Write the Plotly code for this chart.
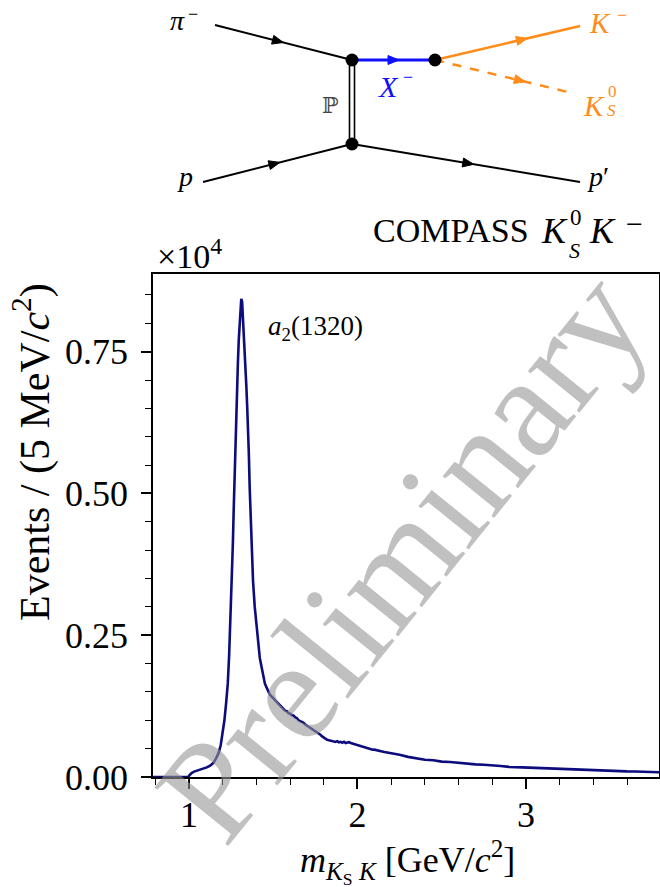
import math
import plotly.graph_objects as go

# ---------------- data ----------------
mass = [0.786, 0.995, 1.002, 1.015, 1.030, 1.046, 1.065, 1.085, 1.105, 1.125,
        1.145, 1.160, 1.175, 1.188, 1.200, 1.210, 1.220, 1.230, 1.238, 1.244,
        1.250, 1.255, 1.260, 1.265, 1.270, 1.275, 1.280, 1.285, 1.290, 1.295,
        1.300, 1.305, 1.310, 1.315, 1.320, 1.325, 1.330, 1.335, 1.340, 1.345,
        1.350, 1.355, 1.360, 1.365, 1.370, 1.375, 1.380, 1.390, 1.400, 1.410,
        1.420, 1.430, 1.440, 1.450, 1.460, 1.470, 1.480, 1.490,
        1.50, 1.51, 1.52, 1.53, 1.54, 1.55, 1.56, 1.57, 1.58, 1.59,
        1.60, 1.61, 1.62, 1.63, 1.64, 1.65, 1.66, 1.67, 1.68, 1.69,
        1.70, 1.71, 1.72, 1.73, 1.74, 1.75, 1.76, 1.77, 1.78, 1.79,
        1.80, 1.81, 1.82, 1.83, 1.84, 1.85, 1.86, 1.87, 1.88, 1.89,
        1.90, 1.91, 1.92, 1.93, 1.94, 1.95, 1.96, 1.97, 1.98, 1.99,
        2.00, 2.01, 2.02, 2.03, 2.04, 2.05, 2.06, 2.07, 2.08, 2.09,
        2.10, 2.12, 2.14, 2.16, 2.18, 2.20, 2.25, 2.30, 2.35, 2.40,
        2.45, 2.50, 2.55, 2.60, 2.65, 2.70, 2.75, 2.80, 2.85, 2.90,
        2.95, 3.00, 3.05, 3.10, 3.15, 3.20, 3.25, 3.30, 3.35, 3.40,
        3.45, 3.50, 3.55, 3.60, 3.65, 3.70, 3.75, 3.79]
counts = [0, 0, 30, 70, 95, 110, 130, 150, 170, 200,
          250, 330, 420, 560, 780, 1000, 1300, 1650, 2150, 2600,
          3100, 3500, 4100, 4700, 5300, 5900, 6400, 6800, 7300, 7700,
          8000, 8200, 8430, 8380, 8100, 7950, 7700, 7300, 6900, 6550,
          6200, 5700, 5100, 4650, 4200, 3800, 3450, 3000, 2650, 2350,
          2100, 1950, 1780, 1650, 1580, 1500, 1450, 1420,
          1390, 1360, 1330, 1300, 1255, 1230, 1210, 1170, 1160, 1125,
          1115, 1090, 1085, 1050, 1040, 1000, 985, 970, 955, 925,
          905, 890, 870, 840, 825, 800, 780, 760, 745, 715,
          690, 670, 655, 648, 640, 625, 630, 618, 632, 612,
          620, 605, 622, 600, 608, 615, 600, 590, 585, 570,
          565, 550, 552, 535, 530, 515, 512, 495, 492, 480,
          482, 462, 455, 440, 432, 420, 392, 355, 330, 305,
          295, 272, 265, 248, 242, 222, 215, 198, 194, 178,
          172, 166, 160, 150, 148, 138, 135, 124, 122, 114,
          113, 108, 104, 100, 98, 94, 90, 85]

x_tick_vals = [1, 2, 3]
y_tick_vals = [0, 2500, 5000, 7500]
y_tick_text = ["0.00", "0.25", "0.50", "0.75"]

# ---------------- layout helpers ----------------
W, H = 660, 887
SERIF = "Liberation Serif"


def px(x):
    return x / W


def py(y):
    return 1 - y / H


fig = go.Figure()
fig.add_trace(go.Scatter(x=mass, y=counts, mode="lines",
                         line=dict(color="#0c0c7c", width=2.6),
                         hoverinfo="skip"))

L, R, T, B = 153, 659, 274, 777
axis_common = dict(showline=True, linecolor="black", linewidth=1.8, mirror=True,
                   showgrid=False, zeroline=False, ticks="outside", ticklen=10,
                   tickwidth=1.6, tickcolor="black", automargin=False,
                   tickfont=dict(family=SERIF, size=36, color="black"))

fig.update_layout(
    width=W, height=H, margin=dict(l=0, r=0, t=0, b=0),
    paper_bgcolor="white", plot_bgcolor="white", showlegend=False,
    font=dict(family=SERIF, color="black"),
    xaxis=dict(domain=[px(L), px(R)], range=[0.786, 3.79], tickvals=x_tick_vals,
               ticklabelstandoff=-5,
               minor=dict(dtick=0.2, tick0=0, ticks="outside", ticklen=6,
                          tickwidth=1.3, tickcolor="black", showgrid=False),
               **axis_common),
    yaxis=dict(domain=[py(B), py(T)], range=[0, 8870], tickvals=y_tick_vals,
               ticktext=y_tick_text, ticklabelstandoff=6,
               minor=dict(dtick=500, tick0=0, ticks="outside", ticklen=6,
                          tickwidth=1.3, tickcolor="black", showgrid=False),
               **axis_common),
)

ann = []


def text(x, y, s, size, color="black", xanchor="center", yanchor="middle",
         angle=0, family=SERIF):
    ann.append(dict(x=px(x), y=py(y), xref="paper", yref="paper", text=s,
                    showarrow=False, xanchor=xanchor, yanchor=yanchor,
                    textangle=angle, font=dict(family=family, size=size, color=color)))


# watermark
text(401, 555, "Preliminary", 144, color="rgba(150,150,150,0.6)", angle=-51)

# axis titles
text(32, 452, "Events / (5 MeV/<i>c</i><sup>2</sup>)", 42, angle=-90)
text(407, 862, "<i>m</i><sub><i>K</i><sub>S</sub> <i>K</i></sub> [GeV/<i>c</i><sup>2</sup>]", 36)

# exponent & title
text(155, 254, "×10<sup>4</sup>", 34, xanchor="left")
text(371, 231, "COMPASS", 34, xanchor="left")
text(539, 231, "<i>K</i>", 36, xanchor="left")
text(576, 218, "0", 23)
text(574, 251, "<i>S</i>", 22)
text(587, 231, "<i>K</i>", 36, xanchor="left")
text(634, 223, "−", 30)

# peak label
text(266, 328, "<i>a</i><sub>2</sub>(1320)", 27, xanchor="left")

# ---------------- Feynman diagram ----------------
shapes = []
BLACK, BLUE, ORANGE = "black", "#1010ff", "#ff8c1a"


def seg(x0, y0, x1, y1, color, width, dash="solid"):
    shapes.append(dict(type="line", xref="paper", yref="paper",
                       x0=px(x0), y0=py(y0), x1=px(x1), y1=py(y1),
                       line=dict(color=color, width=width, dash=dash)))


def arrow(x0, y0, x1, y1, t, color, length=11, half=4.5):
    dx, dy = x1 - x0, y1 - y0
    n = math.hypot(dx, dy)
    ux, uy = dx / n, dy / n
    cx, cy = x0 + dx * t, y0 + dy * t
    tipx, tipy = cx + ux * length / 2, cy + uy * length / 2
    bx, by = cx - ux * length / 2, cy - uy * length / 2
    ax1, ay1 = bx - uy * half, by + ux * half
    ax2, ay2 = bx + uy * half, by - ux * half
    path = "M {} {} L {} {} L {} {} Z".format(px(tipx), py(tipy), px(ax1), py(ay1),
                                               px(ax2), py(ay2))
    shapes.append(dict(type="path", xref="paper", yref="paper", path=path,
                       fillcolor=color, line=dict(color=color, width=1)))


def dot(x, y, r=6.5):
    shapes.append(dict(type="circle", xref="paper", yref="paper",
                       x0=px(x - r), y0=py(y - r), x1=px(x + r), y1=py(y + r),
                       fillcolor="black", line=dict(color="black", width=0)))


V1 = (352, 60)
V2 = (435, 60)
V3 = (352, 144)

seg(215, 25, *V1, BLACK, 2)
arrow(215, 25, *V1, 0.46, BLACK)
seg(203, 182, *V3, BLACK, 2)
arrow(203, 182, *V3, 0.48, BLACK)
seg(*V3, 580, 182, BLACK, 2)
arrow(*V3, 580, 182, 0.51, BLACK)
seg(349.5, 60, 349.5, 144, BLACK, 1.6)
seg(354.5, 60, 354.5, 144, BLACK, 1.6)
seg(*V1, *V2, BLUE, 3)
arrow(*V1, *V2, 0.5, BLUE)
seg(*V2, 580, 26, ORANGE, 2.5)
arrow(*V2, 580, 26, 0.6, ORANGE)
seg(*V2, 572, 93, ORANGE, 2.5, dash="dash")
arrow(*V2, 572, 93, 0.62, ORANGE)
dot(*V1)
dot(*V2)
dot(*V3)

text(177, 21, "<i>π</i>", 28)
text(193, 14, "−", 18)
text(185, 176, "<i>p</i>", 28)
text(598, 176, "<i>p</i>′", 28)
text(600, 23, "<i>K</i>", 29, color=ORANGE)
text(622, 15, "−", 18, color=ORANGE)
text(594, 106, "<i>K</i>", 29, color=ORANGE)
text(612, 92, "0", 17, color=ORANGE)
text(611, 111, "<i>S</i>", 17, color=ORANGE)
text(388, 86, "<i>X</i>", 30, color=BLUE)
text(408, 77, "−", 18, color=BLUE)
text(330, 105, "ℙ", 22, color="#444444", family="DejaVu Serif")

fig.update_layout(annotations=ann, shapes=shapes)
fig.write_html("out.html", config={"displayModeBar": False},
               post_script="document.body.style.margin='0';"
                           "document.body.style.overflow='hidden';")
